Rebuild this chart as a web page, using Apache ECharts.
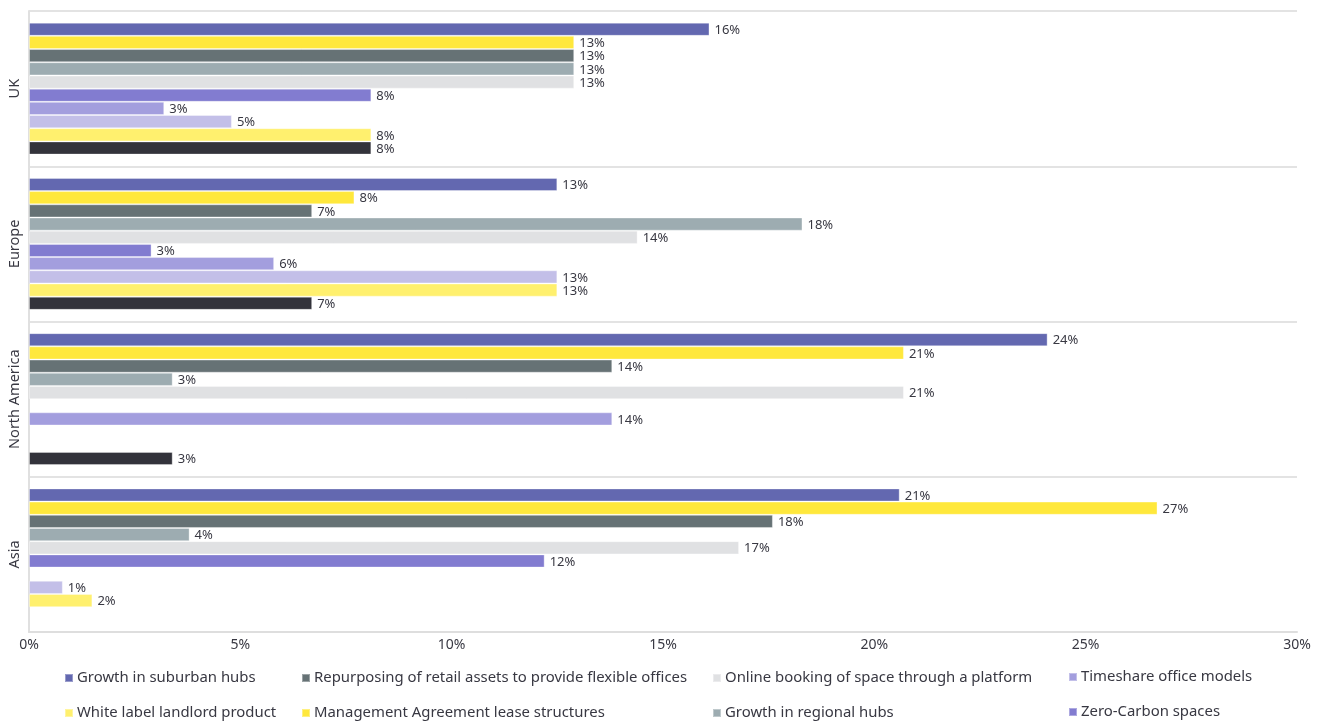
<!DOCTYPE html>
<html>
<head>
<meta charset="utf-8">
<script src="https://cdn.jsdelivr.net/npm/echarts@6/dist/echarts.min.js"></script>
<style>html,body{margin:0;padding:0;background:#fff;}#c{width:1331px;height:722px;}</style>
</head>
<body>
<div id="c"></div>
<script>
const categories = ['UK', 'Europe', 'North America', 'Asia'];
const xTicks = [0, 5, 10, 15, 20, 25, 30];

const suburbanHubs      = [16.1, 12.5, 24.1, 20.6];
const managementLease   = [12.9, 7.7, 20.7, 26.7];
const repurposingRetail = [12.9, 6.7, 13.8, 17.6];
const regionalHubs      = [12.9, 18.3, 3.4, 3.8];
const onlineBooking     = [12.9, 14.4, 20.7, 16.8];
const zeroCarbon        = [8.1, 2.9, null, 12.2];
const timeshare         = [3.2, 5.8, 13.8, null];
const series8           = [4.8, 12.5, null, 0.8];
const whiteLabel        = [8.1, 12.5, null, 1.5];
const series10          = [8.1, 6.7, 3.4, null];

const seriesDefs = [
  ['Growth in suburban hubs', suburbanHubs, '#6368b0'],
  ['Management Agreement lease structures', managementLease, '#ffe83c'],
  ['Repurposing of retail assets to provide flexible offices', repurposingRetail, '#667275'],
  ['Growth in regional hubs', regionalHubs, '#9dacb1'],
  ['Online booking of space through a platform', onlineBooking, '#e0e1e3'],
  ['Zero-Carbon spaces', zeroCarbon, '#827cd0'],
  ['Timeshare office models', timeshare, '#a39ede'],
  ['Other option A', series8, '#c3bfe8'],
  ['White label landlord product', whiteLabel, '#fff06e'],
  ['Other option B', series10, '#33333b']
];

const legendLayout = [
  ['Growth in suburban hubs', 64, 670],
  ['Repurposing of retail assets to provide flexible offices', 301, 670],
  ['Online booking of space through a platform', 712, 670],
  ['Timeshare office models', 1068, 669],
  ['White label landlord product', 64, 705],
  ['Management Agreement lease structures', 301, 705],
  ['Growth in regional hubs', 712, 705],
  ['Zero-Carbon spaces', 1068, 704]
];

const FONT = 'Noto Sans';
const TXT = '#383842';

const chart = echarts.init(document.getElementById('c'));
chart.setOption({
  animation: false,
  backgroundColor: '#fff',
  grid: { left: 29, right: 34, top: 11, bottom: 90, containLabel: false },
  legend: legendLayout.map(([name, x, y]) => ({
    data: [name], left: x, top: y, padding: 0,
    icon: 'rect', itemWidth: 8, itemHeight: 8,
    selectedMode: false,
    textStyle: { color: TXT, fontSize: 14.9, fontFamily: FONT, lineHeight: 16, padding: [0, 0, 0, -1] }
  })),
  xAxis: {
    type: 'value', min: xTicks[0], max: xTicks[xTicks.length - 1], interval: 5,
    axisLine: { show: true, lineStyle: { color: '#dedede', width: 2 } },
    axisTick: { show: false },
    splitLine: { show: false },
    axisLabel: { formatter: '{value}%', color: TXT, fontSize: 14, fontFamily: FONT, margin: 6 }
  },
  yAxis: {
    type: 'category', data: categories, inverse: true,
    axisLine: { show: true, lineStyle: { color: '#e0e0e0', width: 2 } },
    axisTick: { show: false },
    splitLine: { show: true, lineStyle: { color: '#e3e3e3', width: 2 } },
    axisLabel: { rotate: 90, color: TXT, fontSize: 14.5, fontFamily: FONT, margin: 7 }
  },
  series: seriesDefs.map(([name, data, color]) => ({
    name, type: 'bar', data,
    barGap: '0%', barCategoryGap: '15%',
    itemStyle: { color, borderColor: 'rgba(255,255,255,0.35)', borderWidth: 1 },
    label: {
      show: true, position: 'right', distance: 5, offset: [0, 1],
      color: TXT, fontSize: 13, fontFamily: FONT,
      formatter: p => (p.value == null ? '' : Math.round(p.value) + '%')
    }
  }))
});
</script>
</body>
</html>
